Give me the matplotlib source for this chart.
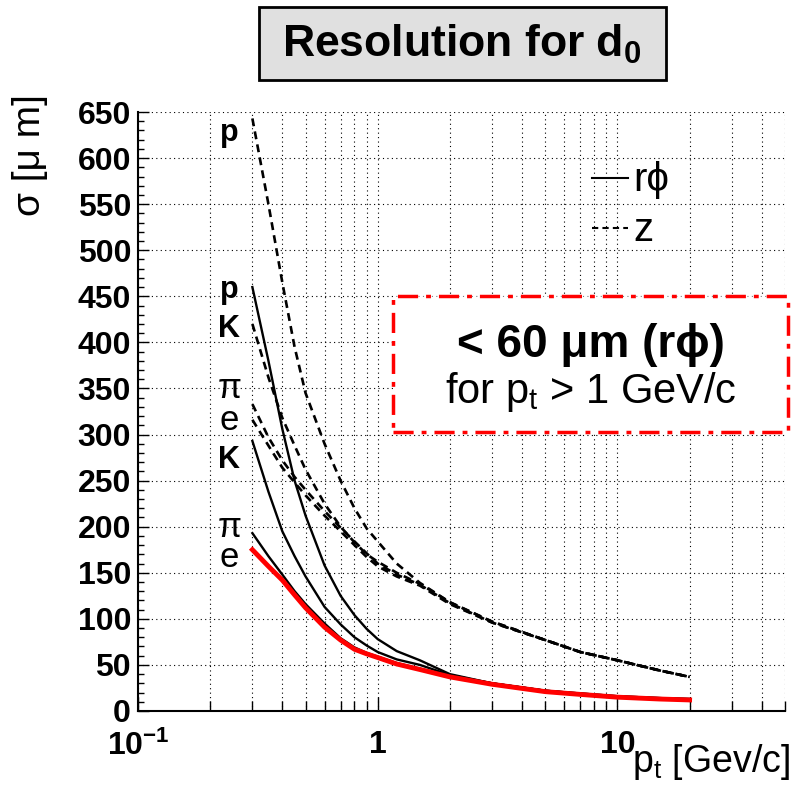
import matplotlib
matplotlib.use("Agg")
import matplotlib.pyplot as plt
from matplotlib.patches import Rectangle
from matplotlib.lines import Line2D
from matplotlib.ticker import FixedLocator, LogLocator, MultipleLocator, NullFormatter

plt.rcParams['font.family'] = ['Liberation Sans', 'DejaVu Sans']
plt.rcParams['mathtext.fontset'] = 'custom'
plt.rcParams['mathtext.rm'] = 'Liberation Sans'
plt.rcParams['mathtext.bf'] = 'Liberation Sans:bold'
plt.rcParams['mathtext.it'] = 'Liberation Sans:italic'

# transverse momentum points [GeV/c]
pt = [0.3, 0.35, 0.4, 0.45, 0.5, 0.6, 0.7, 0.8, 0.9, 1.0, 1.2, 1.5, 2, 3, 5, 7, 10, 15, 20]

# d0 resolution in r-phi [um]
rphi_e = [175, 157, 142, 126, 112, 91, 77, 67, 62, 58, 51, 45, 37, 29, 21, 18, 15, 13, 12]
rphi_pi = [193, 168, 148, 130, 116, 95, 79, 69, 63, 59, 52, 46, 38, 30, 22, 18.5, 15.5, 13.5, 12.5]
rphi_K = [293, 238, 195, 168, 146, 113, 94, 80, 71, 64, 56, 50, 39, 30, 22, 19, 16, 14, 13]
rphi_p = [460, 380, 306, 250, 212, 158, 125, 104, 89, 78, 65, 55, 40, 30, 22, 19, 16, 14, 13]

# d0 resolution in z [um]
z_e = [316, 288, 264, 248, 234, 212, 195, 180, 167, 157, 146, 136, 116, 96, 77, 64, 55, 44, 37]
z_pi = [333, 297, 272, 254, 240, 217, 199, 184, 171, 160, 148, 137, 117, 96, 77, 64, 55, 44, 37]
z_K = [420, 362, 318, 288, 262, 225, 200, 183, 170, 162, 150, 138, 118, 97, 77, 64, 55, 44, 37]
z_p = [643, 550, 465, 395, 345, 290, 250, 220, 198, 184, 160, 139, 118, 97, 77, 64, 55, 44, 37]

# particle tags next to the curve starts
tags = ['p', 'p', 'K', 'π', 'e', 'K', 'π', 'e']
tag_y = [619, 448, 406, 340, 305, 264, 189, 156]
tag_bold = [True, True, True, False, False, True, False, False]

W, H = 796, 790


def fpos(x, y):
    # pixel position (from top-left) -> figure fraction
    return x / W, 1 - y / H


fig = plt.figure(figsize=(W / 100, H / 100), dpi=100)
ax = fig.add_axes([138 / W, 1 - 711 / H, (785 - 138) / W, (711 - 112) / H])

dash = (0, (3, 2))
for z in [z_p, z_K, z_pi, z_e]:
    ax.plot(pt, z, color='black', lw=1.9, ls=dash)
for r in [rphi_p, rphi_K, rphi_pi]:
    ax.plot(pt, r, color='black', lw=1.7)
ax.plot(pt, rphi_e, color='red', lw=3.5)

ax.set_xscale('log')
ax.set_xlim(0.1, 50)
ax.set_ylim(0, 650)

ax.xaxis.set_major_locator(FixedLocator([0.1, 1, 10]))
ax.xaxis.set_minor_locator(LogLocator(base=10, subs=range(2, 10)))
ax.xaxis.set_minor_formatter(NullFormatter())
ax.set_xticklabels([r'$\mathbf{10^{-1}}$', '1', '10'], fontsize=23, fontweight='bold')
ax.yaxis.set_major_locator(MultipleLocator(50))
ax.yaxis.set_minor_locator(MultipleLocator(10))
for lab in ax.get_yticklabels():
    lab.set_fontsize(23)
    lab.set_fontweight('bold')

ax.tick_params(axis='x', which='major', direction='in', length=10, width=1, pad=14)
ax.tick_params(axis='x', which='minor', direction='in', length=7, width=1)
ax.tick_params(axis='y', which='major', direction='in', length=8, width=1, pad=5)
ax.tick_params(axis='y', which='minor', direction='in', length=4, width=1)

ax.grid(which='both', axis='x', color='black', lw=0.8, ls=(0, (1, 3)))
ax.grid(which='major', axis='y', color='black', lw=0.8, ls=(0, (1, 3)))
ax.spines['top'].set_visible(False)
ax.spines['right'].set_visible(False)
ax.spines['left'].set_linewidth(1.5)
ax.spines['bottom'].set_linewidth(1.5)

for t, y, b in zip(tags, tag_y, tag_bold):
    ax.text(0.24, y, t, ha='center', va='baseline',
            fontsize=22 if b else 25, fontweight='bold' if b else 'normal')

# axis titles
fig.text(*fpos(30, 94), 'σ [μ m]', rotation=90, ha='center', va='top', fontsize=28)
fig.text(*fpos(790, 772), r'p$_{\mathrm{t}}$ [Gev/c]', ha='right', va='baseline', fontsize=27)

# title box
x0, y0 = fpos(259, 80)
fig.add_artist(Rectangle((x0, y0), (666 - 259) / W, (80 - 7) / H, transform=fig.transFigure,
                         facecolor='#e0e0e0', edgecolor='black', lw=2, zorder=3))
fig.text(*fpos(462, 44), r'$\mathbf{Resolution\ for\ d_0}$', ha='center', va='center',
         fontsize=32, zorder=4)

# legend
for y, ls, lab in [(178, '-', 'rϕ'), (228, dash, 'z')]:
    xa, ya = fpos(592, y)
    xb, _ = fpos(628, y)
    fig.add_artist(Line2D([xa, xb], [ya, ya], transform=fig.transFigure, color='black', lw=1.5, ls=ls))
    fig.text(*fpos(633, y + 2), lab, ha='left', va='center', fontsize=29)

# highlighted statement
bx, by = fpos(393, 432)
fig.add_artist(Rectangle((bx, by), (788 - 393) / W, (432 - 296) / H, transform=fig.transFigure,
                         facecolor='white', edgecolor='red', lw=2.5,
                         ls=(0, (5.8, 2.3, 1.4, 2.3)), zorder=3))
fig.text(*fpos(591, 357), '< 60 μm (rϕ)', ha='center', va='baseline', fontsize=33,
         fontweight='bold', zorder=4)
fig.text(*fpos(591, 403), r'for p$_{\mathrm{t}}$ > 1 GeV/c', ha='center', va='baseline',
         fontsize=30, zorder=4)

fig.savefig('out.png', dpi=100)
